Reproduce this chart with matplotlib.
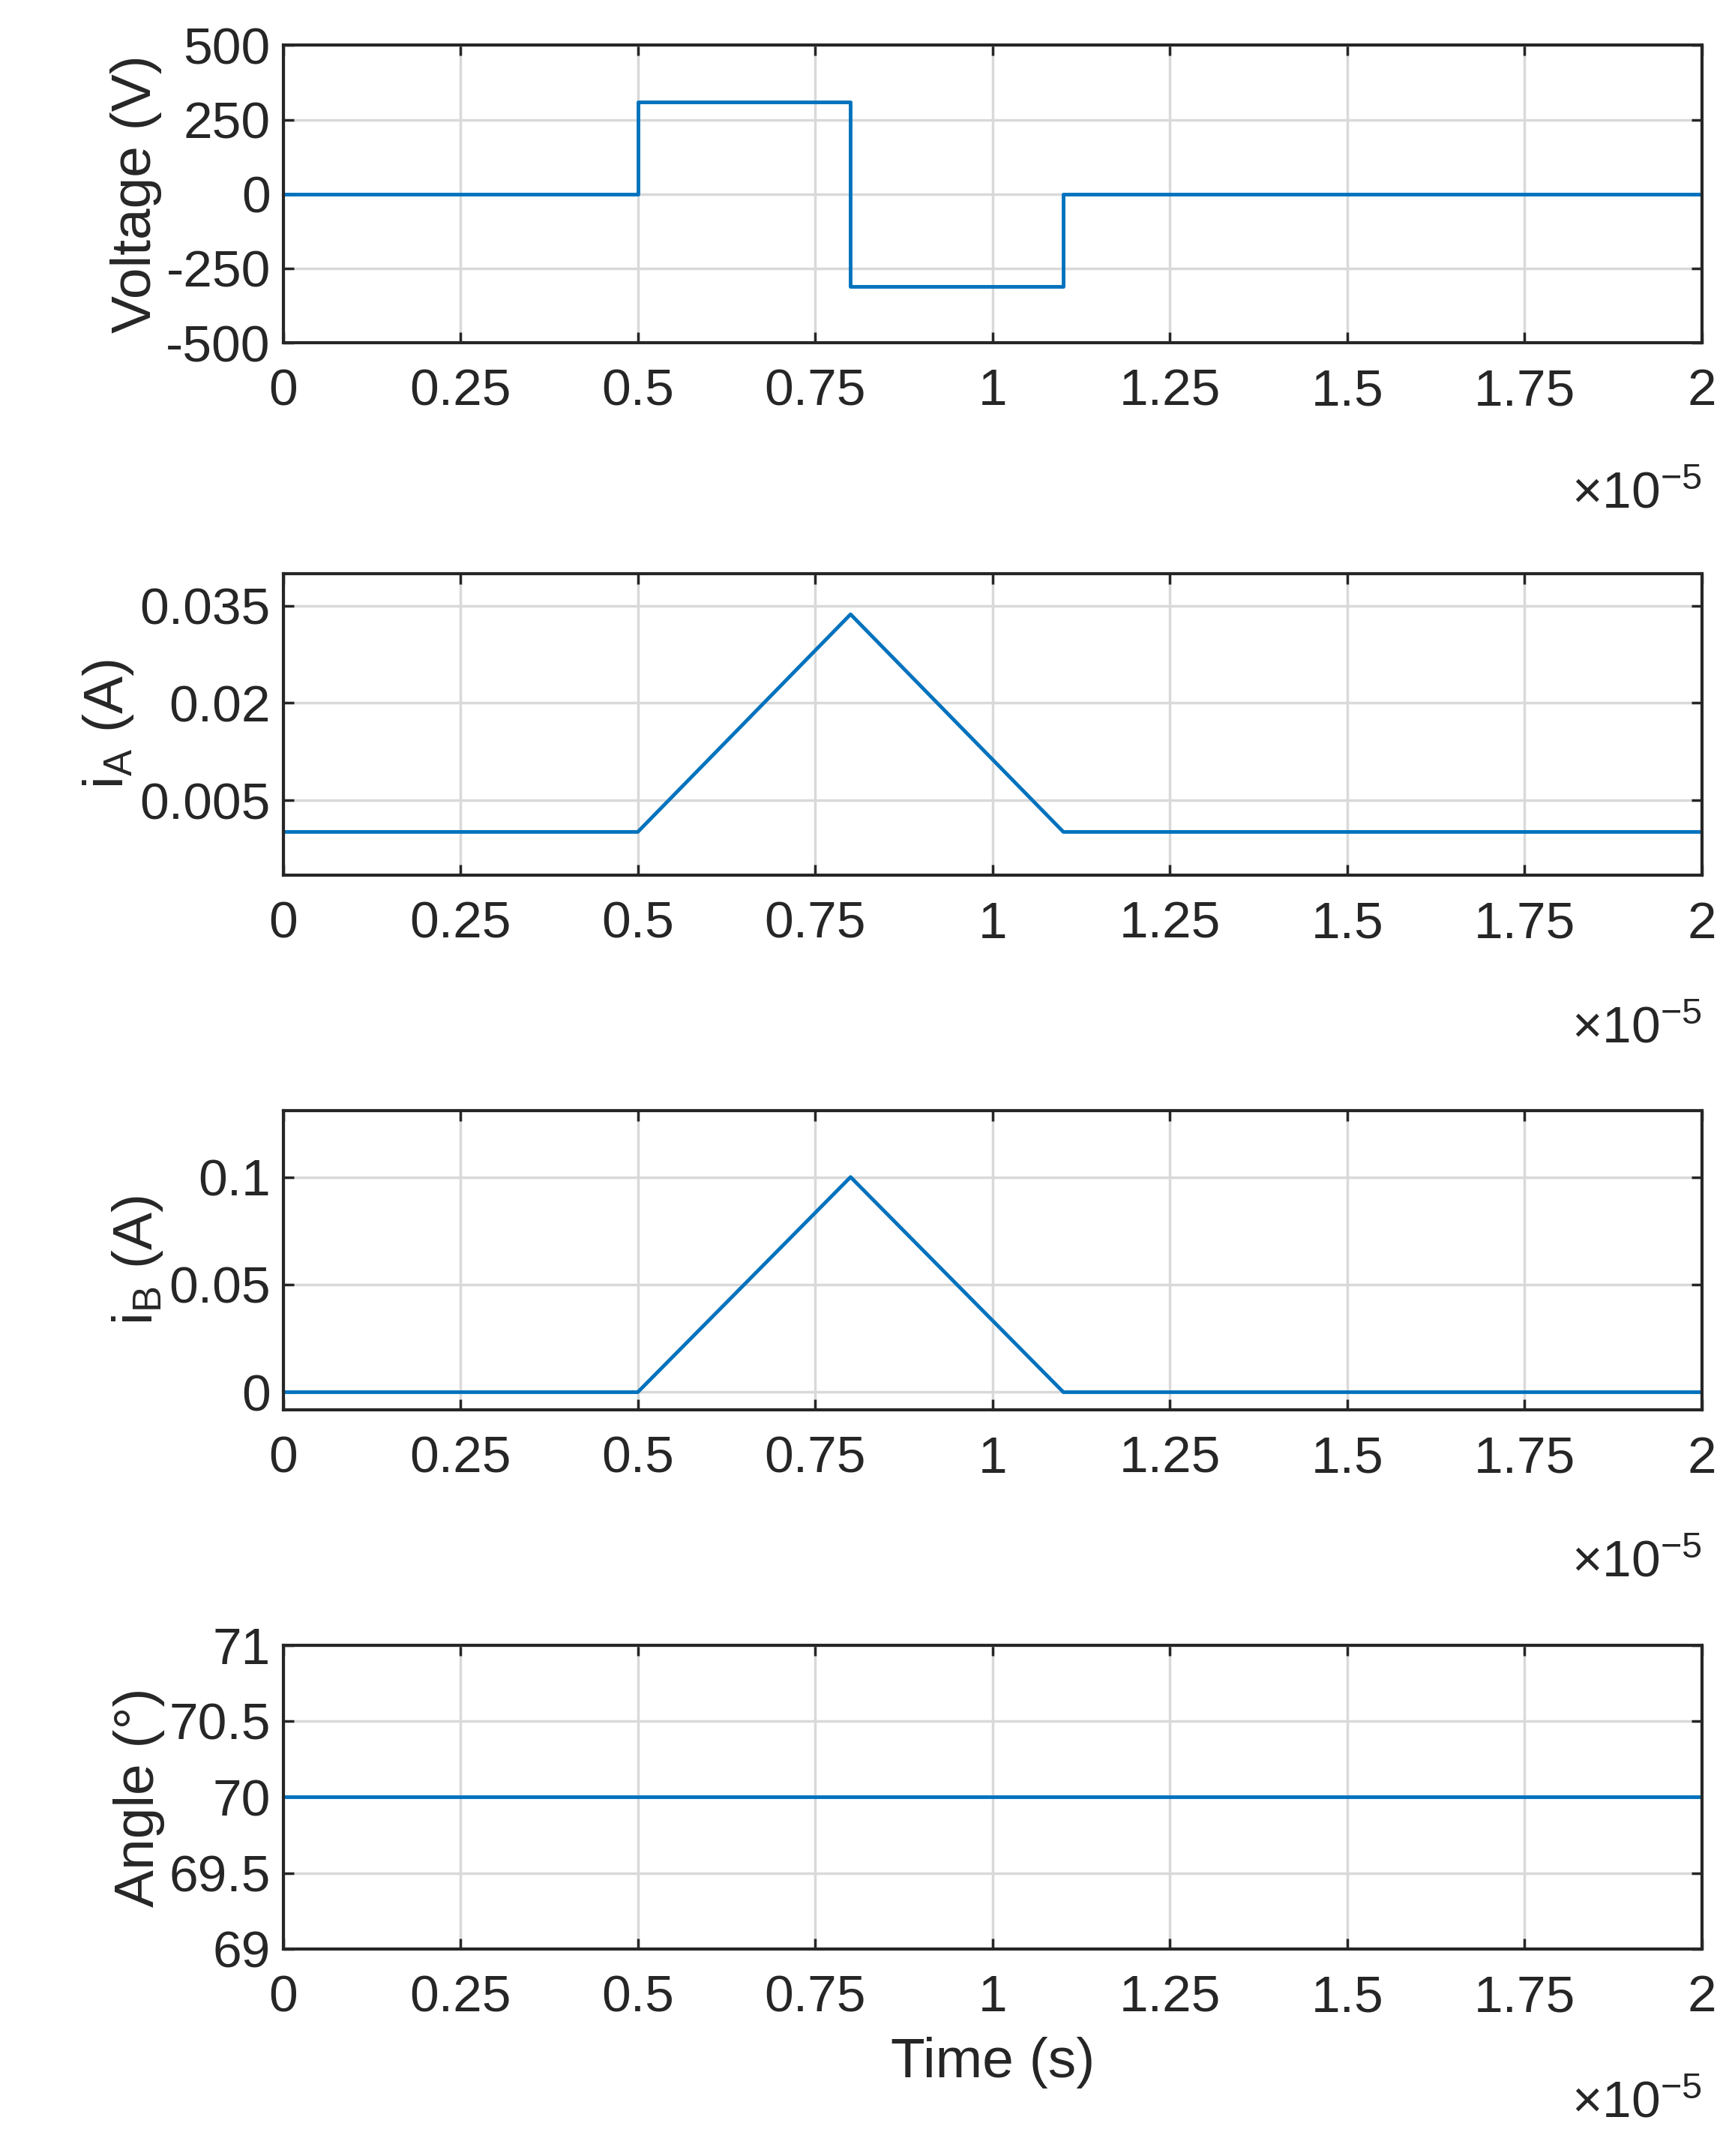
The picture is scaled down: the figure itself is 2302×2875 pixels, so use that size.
import matplotlib
matplotlib.use('Agg')
import matplotlib.pyplot as plt
import numpy as np

plt.rcParams['font.family'] = ['Liberation Sans', 'DejaVu Sans']
plt.rcParams['mathtext.fontset'] = 'custom'
plt.rcParams['mathtext.rm'] = 'Liberation Sans'

# data (time in seconds)
t_volt = [0, 0.5e-5, 0.5e-5, 0.8e-5, 0.8e-5, 1.1e-5, 1.1e-5, 2e-5]
volt = [0, 0, 310, 310, -310, -310, 0, 0]
t_cur = [0, 0.5e-5, 0.8e-5, 1.1e-5, 2e-5]
i_a = [0.0001, 0.0001, 0.0337, 0.0001, 0.0001]
i_b = [0, 0, 0.1, 0, 0]
t_ang = [0, 2e-5]
angle = [70, 70]

x_ticks = [0, 0.25, 0.5, 0.75, 1, 1.25, 1.5, 1.75, 2]
x_labels = ['0', '0.25', '0.5', '0.75', '1', '1.25', '1.5', '1.75', '2']

LINE = '#0072BD'
FS = 50

fig = plt.figure(figsize=(23.02, 28.75), dpi=100)
L, W = 0.164, 0.822
boxes = [(0.841, 0.138), (0.594, 0.140), (0.346, 0.139), (0.096, 0.141)]

panels = [
    (t_volt, volt, (-500, 500), [-500, -250, 0, 250, 500], ['-500', '-250', '0', '250', '500'], 'Voltage (V)'),
    (t_cur, i_a, (-0.0066, 0.040), [0.005, 0.02, 0.035], ['0.005', '0.02', '0.035'], r'i$_\mathregular{A}$ (A)'),
    (t_cur, i_b, (-0.0083, 0.131), [0, 0.05, 0.1], ['0', '0.05', '0.1'], r'i$_\mathregular{B}$ (A)'),
    (t_ang, angle, (69, 71), [69, 69.5, 70, 70.5, 71], ['69', '69.5', '70', '70.5', '71'], 'Angle (°)'),
]

for k, ((b, h), (t, y, ylim, yt, ytl, ylab)) in enumerate(zip(boxes, panels)):
    ax = fig.add_axes([L, b, W, h])
    ax.plot(np.array(t) / 1e-5, y, color=LINE, lw=3.5)
    ax.set_xlim(0, 2)
    ax.set_ylim(*ylim)
    ax.set_xticks(x_ticks)
    ax.set_xticklabels(x_labels)
    ax.set_yticks(yt)
    ax.set_yticklabels(ytl)
    ax.tick_params(labelsize=FS, length=10, width=2.5, direction='in',
                   colors='#262626', top=True, right=True)
    ax.tick_params(axis='x', pad=24)
    ax.tick_params(axis='y', pad=12)
    ax.grid(True, color='#d9d9d9', lw=2.5)
    ax.set_axisbelow(True)
    for s in ax.spines.values():
        s.set_color('#262626')
        s.set_linewidth(3)
    ax.set_ylabel(ylab, fontsize=54, color='#262626', labelpad=4)
    ax.text(1.0, -0.43, r'$\times\mathregular{10^{-5}}$',
            transform=ax.transAxes, ha='right', va='top', fontsize=FS, color='#262626')
    if k == 3:
        ax.set_xlabel('Time (s)', fontsize=54, color='#262626', labelpad=14)

fig.savefig('out.png', dpi=100, facecolor='white')
